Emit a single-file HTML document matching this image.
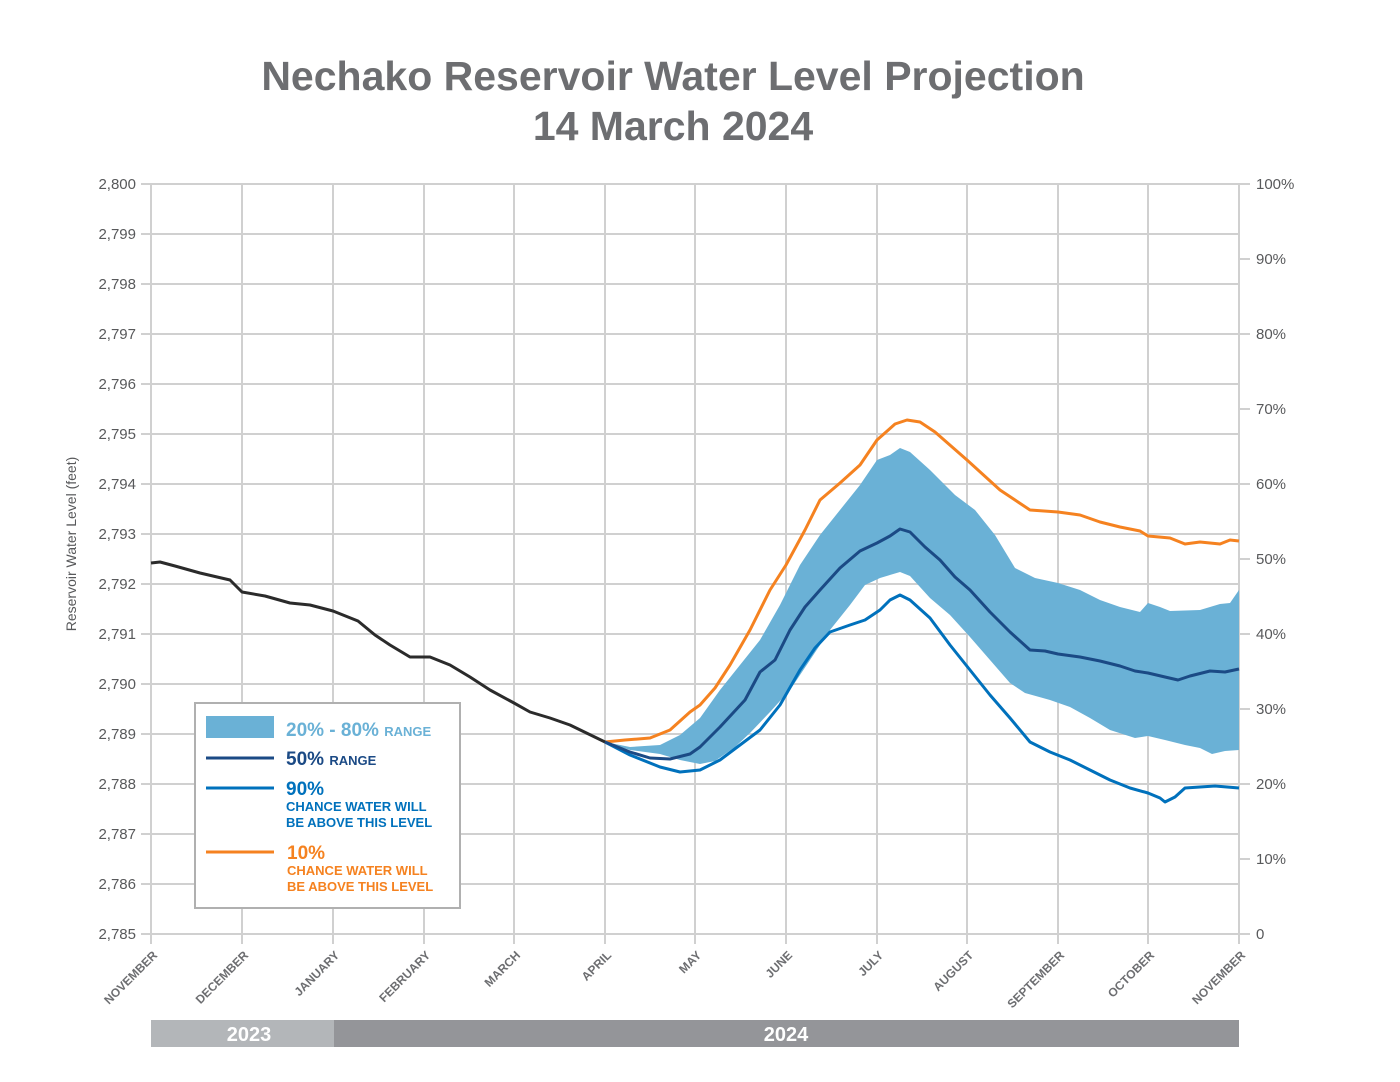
<!DOCTYPE html>
<html><head><meta charset="utf-8"><style>
body{margin:0;background:#fff;}
svg{display:block;font-family:"Liberation Sans",sans-serif;}
</style></head><body>
<svg width="1400" height="1082" viewBox="0 0 1400 1082">
<text x="673" y="90" text-anchor="middle" font-size="41" font-weight="bold" fill="#6d6e71">Nechako Reservoir Water Level Projection</text>
<text x="673" y="140" text-anchor="middle" font-size="41" font-weight="bold" fill="#6d6e71">14 March 2024</text>
<g stroke="#d0d0d0" stroke-width="2">
<line x1="151" x2="1239" y1="184" y2="184"/><line x1="151" x2="1239" y1="234" y2="234"/><line x1="151" x2="1239" y1="284" y2="284"/><line x1="151" x2="1239" y1="334" y2="334"/><line x1="151" x2="1239" y1="384" y2="384"/><line x1="151" x2="1239" y1="434" y2="434"/><line x1="151" x2="1239" y1="484" y2="484"/><line x1="151" x2="1239" y1="534" y2="534"/><line x1="151" x2="1239" y1="584" y2="584"/><line x1="151" x2="1239" y1="634" y2="634"/><line x1="151" x2="1239" y1="684" y2="684"/><line x1="151" x2="1239" y1="734" y2="734"/><line x1="151" x2="1239" y1="784" y2="784"/><line x1="151" x2="1239" y1="834" y2="834"/><line x1="151" x2="1239" y1="884" y2="884"/><line x1="151" x2="1239" y1="934" y2="934"/>
<line y1="184" y2="944" x1="151" x2="151"/><line y1="184" y2="944" x1="242" x2="242"/><line y1="184" y2="944" x1="333" x2="333"/><line y1="184" y2="944" x1="424" x2="424"/><line y1="184" y2="944" x1="514" x2="514"/><line y1="184" y2="944" x1="605" x2="605"/><line y1="184" y2="944" x1="695" x2="695"/><line y1="184" y2="944" x1="786" x2="786"/><line y1="184" y2="944" x1="877" x2="877"/><line y1="184" y2="944" x1="967" x2="967"/><line y1="184" y2="944" x1="1058" x2="1058"/><line y1="184" y2="944" x1="1148" x2="1148"/><line y1="184" y2="944" x1="1239" x2="1239"/>
<line x1="141" x2="151" y1="184" y2="184"/><line x1="141" x2="151" y1="234" y2="234"/><line x1="141" x2="151" y1="284" y2="284"/><line x1="141" x2="151" y1="334" y2="334"/><line x1="141" x2="151" y1="384" y2="384"/><line x1="141" x2="151" y1="434" y2="434"/><line x1="141" x2="151" y1="484" y2="484"/><line x1="141" x2="151" y1="534" y2="534"/><line x1="141" x2="151" y1="584" y2="584"/><line x1="141" x2="151" y1="634" y2="634"/><line x1="141" x2="151" y1="684" y2="684"/><line x1="141" x2="151" y1="734" y2="734"/><line x1="141" x2="151" y1="784" y2="784"/><line x1="141" x2="151" y1="834" y2="834"/><line x1="141" x2="151" y1="884" y2="884"/><line x1="141" x2="151" y1="934" y2="934"/>
<line x1="1239" x2="1250" y1="184" y2="184"/><line x1="1239" x2="1250" y1="259" y2="259"/><line x1="1239" x2="1250" y1="334" y2="334"/><line x1="1239" x2="1250" y1="409" y2="409"/><line x1="1239" x2="1250" y1="484" y2="484"/><line x1="1239" x2="1250" y1="559" y2="559"/><line x1="1239" x2="1250" y1="634" y2="634"/><line x1="1239" x2="1250" y1="709" y2="709"/><line x1="1239" x2="1250" y1="784" y2="784"/><line x1="1239" x2="1250" y1="859" y2="859"/><line x1="1239" x2="1250" y1="934" y2="934"/>
</g>
<g font-size="15" fill="#58595b" text-anchor="end">
<text x="136" y="189">2,800</text><text x="136" y="239">2,799</text><text x="136" y="289">2,798</text><text x="136" y="339">2,797</text><text x="136" y="389">2,796</text><text x="136" y="439">2,795</text><text x="136" y="489">2,794</text><text x="136" y="539">2,793</text><text x="136" y="589">2,792</text><text x="136" y="639">2,791</text><text x="136" y="689">2,790</text><text x="136" y="739">2,789</text><text x="136" y="789">2,788</text><text x="136" y="839">2,787</text><text x="136" y="889">2,786</text><text x="136" y="939">2,785</text>
</g>
<g font-size="15" fill="#58595b">
<text x="1256" y="189">100%</text><text x="1256" y="264">90%</text><text x="1256" y="339">80%</text><text x="1256" y="414">70%</text><text x="1256" y="489">60%</text><text x="1256" y="564">50%</text><text x="1256" y="639">40%</text><text x="1256" y="714">30%</text><text x="1256" y="789">20%</text><text x="1256" y="864">10%</text><text x="1256" y="939">0</text>
</g>
<text transform="translate(76,544) rotate(-90)" text-anchor="middle" font-size="14" fill="#58595b">Reservoir Water Level (feet)</text>
<g font-size="12" font-weight="bold" fill="#6d6e71" text-anchor="end">
<text transform="translate(158,956) rotate(-45)">NOVEMBER</text>
<text transform="translate(249,956) rotate(-45)">DECEMBER</text>
<text transform="translate(340,956) rotate(-45)">JANUARY</text>
<text transform="translate(431,956) rotate(-45)">FEBRUARY</text>
<text transform="translate(521,956) rotate(-45)">MARCH</text>
<text transform="translate(612,956) rotate(-45)">APRIL</text>
<text transform="translate(702,956) rotate(-45)">MAY</text>
<text transform="translate(793,956) rotate(-45)">JUNE</text>
<text transform="translate(884,956) rotate(-45)">JULY</text>
<text transform="translate(974,956) rotate(-45)">AUGUST</text>
<text transform="translate(1065,956) rotate(-45)">SEPTEMBER</text>
<text transform="translate(1155,956) rotate(-45)">OCTOBER</text>
<text transform="translate(1246,956) rotate(-45)">NOVEMBER</text>
</g>
<rect x="151" y="1020" width="183" height="27" fill="#b3b6b9"/>
<rect x="334" y="1020" width="905" height="27" fill="#949599"/>
<text x="249" y="1041" text-anchor="middle" font-size="20" font-weight="bold" fill="#fff">2023</text>
<text x="786" y="1041" text-anchor="middle" font-size="20" font-weight="bold" fill="#fff">2024</text>
<polygon fill="#6ab1d6" points="605,742 630,747 660,745 680,735 700,718 720,690 740,665 760,640 780,605 800,565 820,535 840,510 860,485 877,460 890,455 900,448 910,452 930,470 955,495 975,510 995,535 1015,568 1035,578 1058,583 1080,590 1100,600 1120,607 1140,612 1148,603 1160,607 1170,611 1200,610 1220,604 1230,603 1239,590 1239,750 1225,751 1212,754 1200,748 1185,745 1165,740 1148,736 1135,738 1110,730 1090,718 1070,707 1050,700 1025,693 1010,683 990,660 970,637 950,615 930,598 910,576 900,572 880,578 865,585 850,605 830,630 810,660 790,690 770,712 750,733 735,747 715,761 700,764 680,760 660,754 630,750"/>
<g fill="none" stroke-width="3" stroke-linejoin="round">
<polyline stroke="#f58220" points="605,742 625,740 650,738 670,730 690,712 700,705 715,688 730,665 750,630 770,590 786,565 805,530 820,500 840,483 860,465 877,440 895,424 907,420 920,422 935,432 967,460 1000,490 1030,510 1058,512 1080,515 1100,522 1120,527 1140,531 1148,536 1170,538 1185,544 1200,542 1220,544 1230,540 1239,541"/>
<polyline stroke="#0071bc" points="605,742 630,755 660,767 680,772 700,770 720,760 740,745 760,730 780,705 800,670 815,648 830,632 850,625 865,620 880,610 890,600 900,595 910,600 930,618 950,645 970,670 990,695 1010,718 1030,742 1050,752 1070,760 1090,770 1110,780 1130,788 1148,793 1160,798 1165,802 1175,797 1185,788 1200,787 1215,786 1239,788"/>
<polyline stroke="#1b4a85" points="605,742 630,752 650,758 670,759 690,754 700,747 720,727 745,700 760,672 775,660 790,630 805,607 820,590 840,568 860,551 877,543 890,536 900,529 910,532 925,547 940,560 955,577 970,590 990,612 1010,632 1030,650 1045,651 1058,654 1080,657 1100,661 1120,666 1135,671 1148,673 1165,677 1178,680 1190,676 1210,671 1225,672 1239,669"/>
<polyline stroke="#2b2b2b" points="151,563 160,562 175,566 200,573 230,580 242,592 265,596 290,603 310,605 333,611 358,621 375,635 390,645 410,657 430,657 450,665 470,677 490,690 514,703 530,712 550,718 570,725 605,742"/>
</g>
<rect x="195" y="703" width="265" height="205" fill="#fff" stroke="#b0b0b0" stroke-width="2"/>
<rect x="206" y="716" width="68" height="22" fill="#6ab1d6"/>
<line x1="206" x2="274" y1="758" y2="758" stroke="#1b4a85" stroke-width="3"/>
<line x1="206" x2="274" y1="788" y2="788" stroke="#0071bc" stroke-width="3"/>
<line x1="206" x2="274" y1="852" y2="852" stroke="#f58220" stroke-width="3"/>
<g font-weight="bold">
<text x="286" y="736" font-size="19" fill="#6ab1d6">20% - 80% <tspan font-size="13">RANGE</tspan></text>
<text x="286" y="765" font-size="19" fill="#1b4a85">50% <tspan font-size="13">RANGE</tspan></text>
<text x="286" y="795" font-size="19" fill="#0071bc">90%</text>
<text x="286" y="811" font-size="13" fill="#0071bc">CHANCE WATER WILL</text>
<text x="286" y="827" font-size="13" fill="#0071bc">BE ABOVE THIS LEVEL</text>
<text x="287" y="859" font-size="19" fill="#f58220">10%</text>
<text x="287" y="875" font-size="13" fill="#f58220">CHANCE WATER WILL</text>
<text x="287" y="891" font-size="13" fill="#f58220">BE ABOVE THIS LEVEL</text>
</g>
</svg>
</body></html>
